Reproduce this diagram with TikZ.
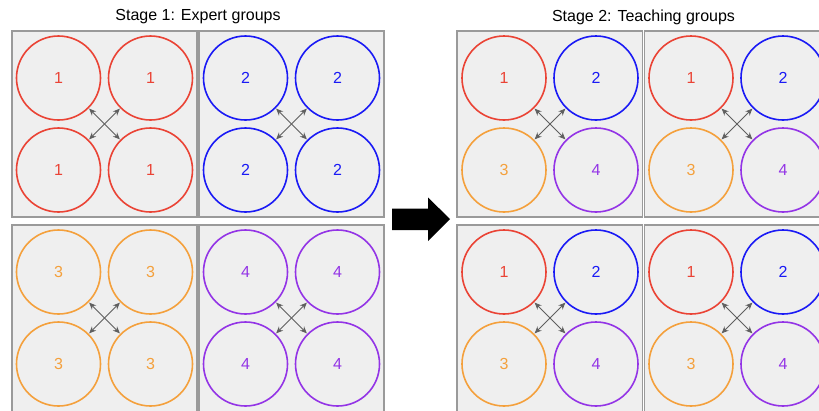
\documentclass[tikz,border=0pt]{standalone}
\usepackage{fontspec}
\setmainfont{Liberation Sans}
\usetikzlibrary{arrows.meta}
\definecolor{cred}{HTML}{EA4335}
\definecolor{cblue}{HTML}{1A1AF5}
\definecolor{corange}{HTML}{F4A03C}
\definecolor{cpurple}{HTML}{9334E6}
\definecolor{boxfill}{HTML}{EFEFEF}
\definecolor{boxline}{HTML}{9A9A9A}
\definecolor{arrgray}{HTML}{5F5F5F}
\tikzset{
  groupbox/.style={fill=boxfill, draw=boxline, line width=1.1pt},
  member/.style={circle, draw=#1, text=#1, line width=1.6pt, minimum size=84pt, inner sep=0pt, font=\fontsize{16}{19}\selectfont},
  xarrow/.style={arrgray, line width=0.9pt, {Stealth[length=7pt,width=6pt]}-{Stealth[length=7pt,width=6pt]}, shorten <=0.5pt, shorten >=0.5pt},
  title/.style={font=\fontsize{16}{19}\selectfont, text=black},
  bigarrow/.style={fill=black, draw=none}
}
% #1 name, #2 cx, #3 cy, then colour/number pairs for a (tl), b (tr), c (bl)
\newcommand\drawgroup[9]{%
  \node[member=#4] (#1a) at (#2-46,#3-46) {#5};
  \node[member=#6] (#1b) at (#2+46,#3-46) {#7};
  \node[member=#8] (#1c) at (#2-46,#3+46) {#9};
}
\newcommand\drawgroupend[5]{%
  \node[member=#2] (#1d) at (#3+46,#4+46) {#5};
  \draw[xarrow] (#1a.south east) -- (#1d.north west);
  \draw[xarrow] (#1b.south west) -- (#1c.north east);
}
\begin{document}
\begin{tikzpicture}[x=1pt,y=-1pt]
\useasboundingbox (0,0) rectangle (819,410);
\clip (0,0) rectangle (819,410);
% titles
\node[title] (t1) at (198,17) {Stage 1: Expert groups};
\node[title] (t2) at (643.5,17) {Stage 2: Teaching groups};
% boxes stage 1
\draw[groupbox] (12,31) rectangle (197,217);
\draw[groupbox] (199,31) rectangle (384,217);
\draw[groupbox] (12,225) rectangle (197,412);
\draw[groupbox] (199,225) rectangle (384,412);
% boxes stage 2
\draw[groupbox] (457,31) rectangle (642.5,217);
\draw[groupbox] (644.5,31) rectangle (830,217);
\draw[groupbox] (457,225) rectangle (642.5,412);
\draw[groupbox] (644.5,225) rectangle (830,412);
% stage 1 groups
\drawgroup{ga}{104.5}{124}{cred}{1}{cred}{1}{cred}{1}
\drawgroupend{ga}{cred}{104.5}{124}{1}
\drawgroup{gb}{291.5}{124}{cblue}{2}{cblue}{2}{cblue}{2}
\drawgroupend{gb}{cblue}{291.5}{124}{2}
\drawgroup{gc}{104.5}{318}{corange}{3}{corange}{3}{corange}{3}
\drawgroupend{gc}{corange}{104.5}{318}{3}
\drawgroup{gd}{291.5}{318}{cpurple}{4}{cpurple}{4}{cpurple}{4}
\drawgroupend{gd}{cpurple}{291.5}{318}{4}
% stage 2 groups
\drawgroup{ge}{550}{124}{cred}{1}{cblue}{2}{corange}{3}
\drawgroupend{ge}{cpurple}{550}{124}{4}
\drawgroup{gf}{737}{124}{cred}{1}{cblue}{2}{corange}{3}
\drawgroupend{gf}{cpurple}{737}{124}{4}
\drawgroup{gg}{550}{318}{cred}{1}{cblue}{2}{corange}{3}
\drawgroupend{gg}{cpurple}{550}{318}{4}
\drawgroup{gh}{737}{318}{cred}{1}{cblue}{2}{corange}{3}
\drawgroupend{gh}{cpurple}{737}{318}{4}
% big arrow
\fill[bigarrow] (392,208.5) -- (428,208.5) -- (428,197.5) -- (450,219) -- (428,241) -- (428,230) -- (392,230) -- cycle;
\end{tikzpicture}
\end{document}
